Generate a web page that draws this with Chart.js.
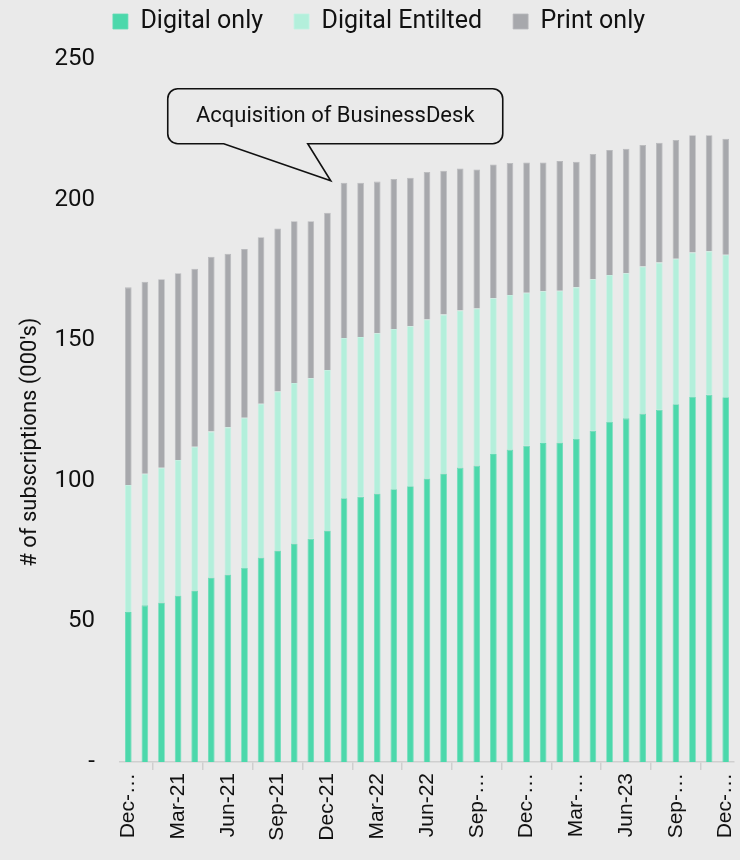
<!DOCTYPE html>
<html>
<head>
<meta charset="utf-8">
<script src="https://cdn.jsdelivr.net/npm/chart.js@4.4.1/dist/chart.umd.min.js"></script>
<style>
  html, body { margin: 0; padding: 0; background: #eaeaea; }
  #wrap { width: 740px; height: 860px; }
</style>
</head>
<body>
<div id="wrap"><canvas id="chart" width="740" height="860"></canvas></div>
<script>
// Monthly subscriptions, thousands
const months = ['Dec-20','Jan-21','Feb-21','Mar-21','Apr-21','May-21','Jun-21','Jul-21','Aug-21','Sep-21','Oct-21','Nov-21',
  'Dec-21','Jan-22','Feb-22','Mar-22','Apr-22','May-22','Jun-22','Jul-22','Aug-22','Sep-22','Oct-22','Nov-22',
  'Dec-22','Jan-23','Feb-23','Mar-23','Apr-23','May-23','Jun-23','Jul-23','Aug-23','Sep-23','Oct-23','Nov-23','Dec-23'];

const digitalOnly = [53.3, 55.7, 56.7, 59.2, 61.0, 65.6, 66.7, 69.0, 72.7, 75.2, 77.7, 79.4, 82.3, 93.8, 94.3, 95.5, 97.0,
  98.1, 100.8, 102.6, 104.7, 105.4, 109.5, 111.1, 112.5, 113.4, 113.6, 114.9, 117.8, 120.9, 122.2, 123.9, 125.3, 127.2,
  129.8, 130.6, 129.7];

const digitalEntitled = [45.2, 46.8, 47.9, 48.2, 51.1, 51.9, 52.3, 53.4, 54.7, 56.6, 57.1, 57.1, 57.1, 57.0, 56.8, 57.0,
  57.0, 56.9, 56.6, 56.5, 55.9, 55.9, 55.4, 55.0, 54.4, 54.0, 54.0, 53.9, 53.9, 52.3, 51.6, 52.3, 52.3, 51.8, 51.4, 51.0, 50.7];

const printOnly = [70.3, 68.3, 67.1, 66.4, 63.3, 62.2, 61.7, 60.0, 59.2, 57.9, 57.5, 55.8, 55.9, 55.2, 54.9, 53.9, 53.3,
  52.8, 52.4, 51.2, 50.5, 49.4, 47.6, 46.9, 46.3, 45.8, 46.1, 44.7, 44.5, 44.4, 44.3, 43.2, 42.6, 42.2, 41.7, 41.3, 41.2];

// Quarterly axis labels (one every third month)
const axisLabels = ['Dec-…','Mar-21','Jun-21','Sep-21','Dec-21','Mar-22','Jun-22','Sep-…','Dec-…','Mar-…','Jun-23','Sep-…','Dec-…'];

const yTicks = [0, 50, 100, 150, 200, 250];
const yTitle = "# of subscriptions (000's)";

// Callout for the BusinessDesk acquisition
const calloutText = 'Acquisition of BusinessDesk';
const calloutIndex = 13;

const BG = '#eaeaea';

// Taller legend box (leaves a gap above the plot) and a small rightward nudge
const legendBoxPlugin = {
  id: 'legendBox',
  beforeLayout(chart) {
    const lg = chart.legend;
    if (lg && !lg._heightPatched) {
      const fit = lg.fit;
      lg.fit = function () { fit.call(this); this.height = 81; };
      lg._heightPatched = true;
    }
  },
  afterLayout(chart) {
    const lg = chart.legend;
    if (lg) { lg.left += 12; lg.right += 12; }
  }
};

// Vertical axis title, centred a little below the middle of the plot
const yTitlePlugin = {
  id: 'yTitle',
  afterDraw(chart) {
    const { ctx, chartArea } = chart;
    ctx.save();
    ctx.translate(30, chartArea.top + (chartArea.bottom - chartArea.top) * 0.545);
    ctx.rotate(-Math.PI / 2);
    ctx.fillStyle = '#111';
    ctx.font = '22px Roboto';
    ctx.textAlign = 'center';
    ctx.textBaseline = 'middle';
    ctx.fillText(yTitle, 0, 0);
    ctx.restore();
  }
};

const calloutPlugin = {
  id: 'callout',
  afterDatasetsDraw(chart) {
    const { ctx, scales: { x, y } } = chart;
    const step = x.getPixelForValue(1) - x.getPixelForValue(0);
    const total = digitalOnly[calloutIndex] + digitalEntitled[calloutIndex] + printOnly[calloutIndex];
    const tipX = x.getPixelForValue(calloutIndex) - 0.8 * step;
    const tipY = y.getPixelForValue(total) - 2;

    const left = tipX - 163, right = tipX + 172, top = tipY - 92, bottom = tipY - 37;
    const r = 10;
    const baseL = tipX - 107, baseR = tipX - 23;

    ctx.save();
    ctx.beginPath();
    ctx.moveTo(left + r, top);
    ctx.lineTo(right - r, top);
    ctx.arcTo(right, top, right, top + r, r);
    ctx.lineTo(right, bottom - r);
    ctx.arcTo(right, bottom, right - r, bottom, r);
    ctx.lineTo(baseR, bottom);
    ctx.lineTo(tipX, tipY);
    ctx.lineTo(baseL, bottom);
    ctx.lineTo(left + r, bottom);
    ctx.arcTo(left, bottom, left, bottom - r, r);
    ctx.lineTo(left, top + r);
    ctx.arcTo(left, top, left + r, top, r);
    ctx.closePath();
    ctx.fillStyle = BG;
    ctx.fill();
    ctx.lineWidth = 1.6;
    ctx.strokeStyle = '#111';
    ctx.lineJoin = 'miter';
    ctx.stroke();

    ctx.fillStyle = '#111';
    ctx.font = '22px Roboto';
    ctx.textAlign = 'center';
    ctx.textBaseline = 'middle';
    ctx.fillText(calloutText, (left + right) / 2, (top + bottom) / 2);
    ctx.restore();
  }
};

new Chart(document.getElementById('chart'), {
  type: 'bar',
  data: {
    labels: months,
    datasets: [
      { label: 'Digital only', data: digitalOnly, backgroundColor: '#4cd8ab', borderColor: '#63dcb5', borderWidth: 0.8 },
      { label: 'Digital Entilted', data: digitalEntitled, backgroundColor: '#b3efdb', borderColor: '#c2f2e3', borderWidth: 0.8 },
      { label: 'Print only', data: printOnly, backgroundColor: '#a7a8ac', borderColor: '#b8b9bc', borderWidth: 0.8 }
    ]
  },
  options: {
    responsive: false,
    animation: false,
    layout: { padding: { top: -22, right: 6, bottom: 0, left: 0 } },
    datasets: { bar: { barPercentage: 0.4, categoryPercentage: 1.0 } },
    plugins: {
      tooltip: { enabled: false },
      legend: {
        position: 'top',
        align: 'center',
        labels: {
          boxWidth: 15,
          boxHeight: 15,
          padding: 31,
          color: '#111',
          font: { family: 'Roboto', size: 25 }
        }
      }
    },
    scales: {
      x: {
        stacked: true,
        offset: true,
        afterFit(scale) {
          scale.height = 98;
          scale.paddingLeft = 0;
          scale.paddingRight = 0;
        },
        grid: {
          offset: true,
          drawOnChartArea: false,
          drawTicks: true,
          tickLength: 8,
          color: '#cfcfcf',
          lineWidth: 1.5
        },
        border: { display: true, color: '#cfcfcf', width: 1.5 },
        ticks: {
          autoSkip: false,
          minRotation: 90,
          maxRotation: 90,
          padding: 3,
          color: '#111',
          font: { family: 'Liberation Sans', size: 21 },
          callback(value, index) {
            return index % 3 === 0 ? axisLabels[index / 3] : null;
          }
        }
      },
      y: {
        stacked: true,
        min: 0,
        max: 250,
        afterFit(scale) { scale.width = 120; },
        afterBuildTicks(scale) { scale.ticks = yTicks.map(v => ({ value: v })); },
        grid: { display: false, drawTicks: false },
        border: { display: false },
        ticks: {
          padding: 25,
          color: '#111',
          font: { family: 'Roboto', size: 24 },
          callback(value) { return value === 0 ? '-' : value; }
        }
      }
    }
  },
  plugins: [legendBoxPlugin, yTitlePlugin, calloutPlugin]
});
</script>
</body>
</html>
